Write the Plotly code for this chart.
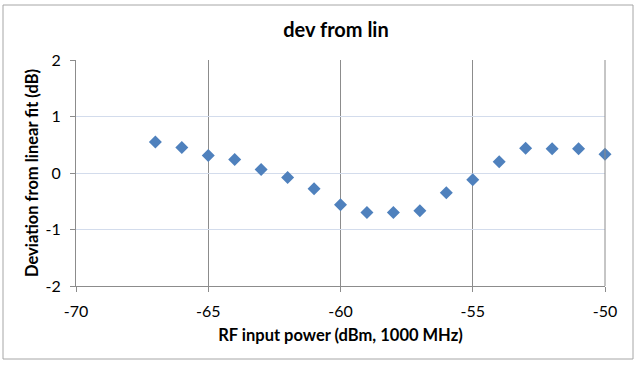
import plotly.graph_objects as go

rf_power = [-67, -66, -65, -64, -63, -62, -61, -60, -59, -58, -57, -56, -55, -54, -53, -52, -51, -50]
deviation = [0.55, 0.45, 0.31, 0.24, 0.06, -0.08, -0.28, -0.56, -0.70, -0.70, -0.67, -0.35, -0.12, 0.20, 0.44, 0.43, 0.43, 0.33]
x_ticks = [-70, -65, -60, -55, -50]
y_ticks = [-2, -1, 0, 1, 2]

W, H = 640, 366
L, R, T, B = 76, 35, 60, 80
pw, ph = W - L - R, H - T - B

def px(x):
    return (x - L) / pw

def py(y):
    return 1 - (y - T) / ph

font = "Lato, Open Sans, DejaVu Sans, sans-serif"

fig = go.Figure()
fig.add_trace(go.Scatter(
    x=rf_power, y=deviation, mode="markers",
    marker=dict(symbol="diamond", size=10, color="#4F81BD",
                line=dict(width=0)),
    showlegend=False, cliponaxis=False,
))

fig.update_layout(
    width=W, height=H,
    margin=dict(l=L, r=R, t=T, b=B, autoexpand=False),
    paper_bgcolor="white", plot_bgcolor="white",
    font=dict(family=font, size=16, color="black"),
    title=dict(text="<b>dev from lin</b>", x=px(336), xref="paper",
               y=1 - 30 / H, yref="container", xanchor="center", yanchor="middle",
               font=dict(size=20, family=font)),
    xaxis=dict(range=[-70, -50], tickvals=x_ticks, ticktext=[str(v) for v in x_ticks],
               showgrid=True, gridcolor="#8C8C8C", gridwidth=1,
               showline=True, linecolor="#8C8C8C", linewidth=1,
               ticks="outside", ticklen=5, tickcolor="#8C8C8C",
               zeroline=False, mirror=False, automargin=False,
               ticklabelstandoff=6,
               title=dict(text="<b>RF input power (dBm, 1000 MHz)</b>", standoff=10,
                          font=dict(size=16.5, family=font)),
               tickfont=dict(size=16, family=font)),
    yaxis=dict(range=[-2, 2], tickvals=y_ticks, ticktext=[str(v) for v in y_ticks],
               showgrid=True, gridcolor="#D3DCEC", gridwidth=1,
               showline=True, linecolor="#8C8C8C", linewidth=1,
               ticks="outside", ticklen=5, tickcolor="#8C8C8C",
               zeroline=False, automargin=False,
               ticklabelstandoff=6,
               title=dict(text="<b>Deviation from linear fit (dB)</b>", standoff=2,
                          font=dict(size=16.5, family=font)),
               tickfont=dict(size=16, family=font)),
    shapes=[
        dict(type="rect", xref="paper", yref="paper",
             x0=px(3), x1=px(633), y0=py(359), y1=py(5),
             line=dict(color="#A6A6A6", width=1), fillcolor="rgba(0,0,0,0)", layer="below"),
        dict(type="line", xref="paper", yref="paper", x0=1, x1=1, y0=0, y1=1,
             line=dict(color="#8C8C8C", width=1)),
    ],
)

fig.write_html("out.html", config={"displayModeBar": False},
               post_script="document.body.style.margin='0';")
